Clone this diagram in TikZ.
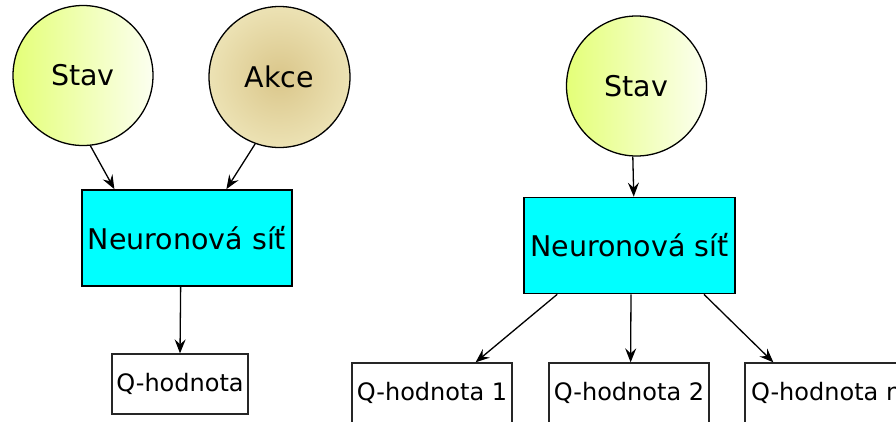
\documentclass[tikz,border=0pt]{standalone}
\usepackage{fontspec}
\setmainfont{DejaVu Sans}
\usetikzlibrary{calc,arrows.meta}
\definecolor{stavleft}{RGB}{228,255,120}
\definecolor{stavright}{RGB}{252,255,240}
\definecolor{akcein}{RGB}{218,198,138}
\definecolor{akceout}{RGB}{236,226,180}
\definecolor{netcyan}{RGB}{0,255,255}
\tikzset{
  statecirc/.style={circle, draw=black, line width=1.3pt, inner sep=0pt,
    minimum size=140pt, left color=stavleft, right color=stavright,
    font=\fontsize{28.5}{32}\selectfont},
  actioncirc/.style={circle, draw=black, line width=1.3pt, inner sep=0pt,
    minimum size=141pt, inner color=akcein, outer color=akceout,
    font=\fontsize{28.5}{32}\selectfont},
  netbox/.style={rectangle, draw=black, line width=1.7pt, fill=netcyan,
    minimum width=210pt, minimum height=96pt, inner sep=0pt,
    font=\fontsize{28.5}{32}\selectfont},
  qbox/.style={rectangle, draw=black!85, line width=1.3pt, fill=white,
    minimum width=#1, minimum height=60pt, inner sep=0pt,
    font=\fontsize{24}{27}\selectfont},
  link/.style={line width=1.3pt, -{Stealth[length=14pt,width=11pt,inset=5pt]}}
}
\begin{document}
\begin{tikzpicture}[x=1pt, y=-1pt]
\useasboundingbox (0,0) rectangle (896,421);
\fill[white] (0,0) rectangle (896,421);
\clip (0,0) rectangle (896,421);

% left network: state and action in, one Q-value out
\node[statecirc]  (stavL) at (83,75.5)  {Stav};
\node[actioncirc] (akce)  at (279.5,77) {Akce};
\node[netbox]     (nnL)   at (187,238)  {Neuronová síť};
\node[qbox=136pt] (qL)    at (180,384)  {Q-hodnota};

\draw[link] (stavL.-84) -- ($(nnL.north west)!0.157!(nnL.north east)$);
\draw[link] (akce.-110) -- ($(nnL.north west)!0.686!(nnL.north east)$);
\draw[link] ($(nnL.south west)!0.47!(nnL.south east)$) -- (qL.north);

% right network: state in, one Q-value per action out
\node[statecirc]  (stavR) at (636.5,86) {Stav};
\node[netbox, minimum width=211pt] (nnR) at (629.5,245.5) {Neuronová síť};
\node[qbox=160pt] (q1) at (432,393) {Q-hodnota 1};
\node[qbox=160pt] (q2) at (629,393) {Q-hodnota 2};
\node[qbox=160pt] (qn) at (825,393) {\makebox[148pt][l]{Q-hodnota n}};

\draw[link] (stavR.-93) -- ($(nnR.north west)!0.52!(nnR.north east)$);
\draw[link] ($(nnR.south west)!0.16!(nnR.south east)$) -- ($(q1.north west)!0.77!(q1.north east)$);
\draw[link] ($(nnR.south west)!0.507!(nnR.south east)$) -- ($(q2.north west)!0.51!(q2.north east)$);
\draw[link] ($(nnR.south west)!0.85!(nnR.south east)$) -- ($(qn.north west)!0.18!(qn.north east)$);
\end{tikzpicture}
\end{document}
